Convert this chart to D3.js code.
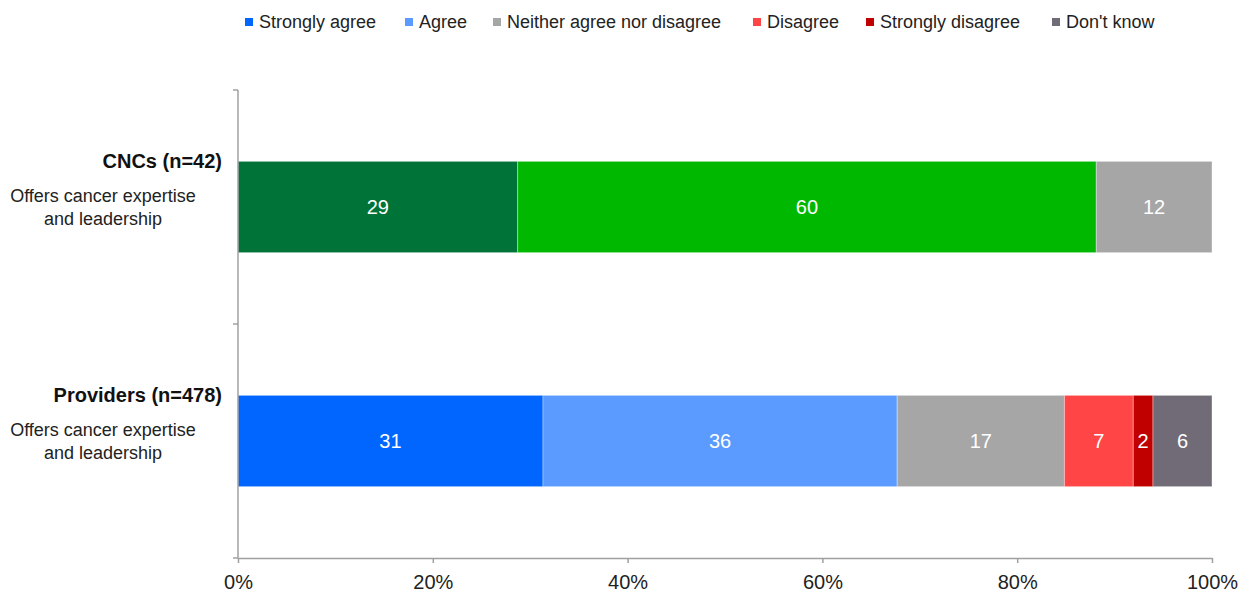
<!DOCTYPE html>
<html>
<head>
<meta charset="utf-8">
<script src="https://cdn.jsdelivr.net/npm/d3@7"></script>
<style>
  html, body { margin: 0; padding: 0; background: #fff; }
  svg text { font-family: "Liberation Sans", Arial, sans-serif; }
</style>
</head>
<body>
<svg id="chart" width="1242" height="593"></svg>
<script>
// Response categories (stack order, left to right)
const responses = ["Strongly agree", "Agree", "Neither agree nor disagree", "Disagree", "Strongly disagree", "Don't know"];
const responseColors = ["#0066ff", "#5b9bff", "#a6a6a6", "#ff4545", "#c00000", "#716b77"];

// Respondent groups
const groups = ["CNCs (n=42)", "Providers (n=478)"];
const statements = ["Offers cancer expertise", "and leadership"];

// Percentages per group (labels as reported)
const cncValues = [29, 60, 12, 0, 0, 0];
const providerValues = [31, 36, 17, 7, 2, 6];

// The CNC row is drawn in greens for the agreement segments
const cncColors = ["#007338", "#00b800", "#a6a6a6", "#ff4545", "#c00000", "#716b77"];

const xTicks = [0, 0.2, 0.4, 0.6, 0.8, 1.0];

const rows = [
  Object.assign({ group: groups[0], colors: cncColors }, Object.fromEntries(responses.map((r, i) => [r, cncValues[i]]))),
  Object.assign({ group: groups[1], colors: responseColors }, Object.fromEntries(responses.map((r, i) => [r, providerValues[i]])))
];

const svg = d3.select("#chart");
const plotLeft = 238, plotRight = 1212, plotTop = 90, plotBottom = 558;

const x = d3.scaleLinear().domain([0, 1]).range([plotLeft, plotRight]);
const y = d3.scaleBand().domain(groups).range([plotTop, plotBottom]).paddingInner(0.61).paddingOuter(0.305);

// Percent-stacked layout: each row normalised to 100%
const stack = d3.stack().keys(responses).offset(d3.stackOffsetExpand);
const series = stack(rows);

const layer = svg.append("g");
series.forEach((s, si) => {
  s.forEach(d => {
    const v = d.data[responses[si]];
    if (!v) return;
    const x0 = x(d[0]), x1 = x(d[1]);
    layer.append("rect")
      .attr("x", x0)
      .attr("y", y(d.data.group))
      .attr("width", x1 - x0)
      .attr("height", y.bandwidth())
      .attr("fill", d.data.colors[si])
      .attr("stroke", "rgba(255,255,255,0.35)")
      .attr("stroke-width", 1);
    layer.append("text")
      .attr("x", (x0 + x1) / 2)
      .attr("y", y(d.data.group) + y.bandwidth() / 2)
      .attr("dy", "0.36em")
      .attr("text-anchor", "middle")
      .attr("fill", "#fff")
      .attr("font-size", 20)
      .text(v);
  });
});

// X axis
const axisColor = "#a0a0a0";
const xAxis = svg.append("g")
  .attr("transform", `translate(0,${plotBottom})`)
  .call(d3.axisBottom(x).tickValues(xTicks).tickFormat(d3.format(".0%")).tickSize(5).tickSizeOuter(0));
xAxis.select(".domain").attr("stroke", axisColor).attr("stroke-width", 1.5);
xAxis.selectAll(".tick line").attr("stroke", axisColor).attr("stroke-width", 1.5);
xAxis.selectAll(".tick text")
  .attr("font-size", 20).attr("fill", "#222").attr("y", 17).attr("dy", "0.71em")
  .attr("font-family", "Liberation Sans, Arial, sans-serif");

// Y axis line with category separators
const yEdges = [plotTop, (plotTop + plotBottom) / 2, plotBottom];
svg.append("line").attr("x1", plotLeft).attr("x2", plotLeft)
  .attr("y1", plotTop).attr("y2", plotBottom).attr("stroke", axisColor).attr("stroke-width", 1.5);
svg.selectAll(".ysep").data(yEdges).enter().append("line")
  .attr("x1", plotLeft - 5).attr("x2", plotLeft)
  .attr("y1", d => d).attr("y2", d => d)
  .attr("stroke", axisColor).attr("stroke-width", 1.5);

// Category labels
groups.forEach(g => {
  const top = y(g);
  svg.append("text")
    .attr("x", 222).attr("y", top + 7)
    .attr("text-anchor", "end")
    .attr("font-size", 20).attr("font-weight", "bold").attr("fill", "#111")
    .text(g);
  statements.forEach((s, j) => {
    svg.append("text")
      .attr("x", 103).attr("y", top + 41 + j * 23)
      .attr("text-anchor", "middle")
      .attr("font-size", 18).attr("fill", "#222")
      .text(s);
  });
});

// Legend
const legendX = [245, 405, 493, 753, 866, 1052];
const legend = svg.append("g");
responses.forEach((r, i) => {
  legend.append("rect").attr("x", legendX[i]).attr("y", 18).attr("width", 8).attr("height", 8).attr("fill", responseColors[i]);
  legend.append("text").attr("x", legendX[i] + 14).attr("y", 28)
    .attr("font-size", 18).attr("fill", "#222").text(r);
});
</script>
</body>
</html>
